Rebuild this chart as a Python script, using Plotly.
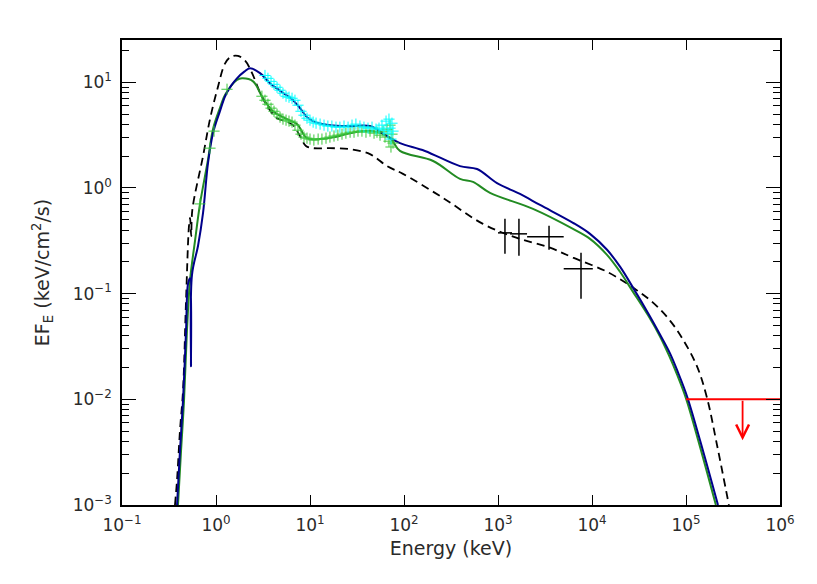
import numpy as np
import plotly.graph_objects as go

# ---------------- data ----------------
# model curves (E in keV, EF_E in keV/cm^2/s)
blue_E = [0.385, 0.414, 0.446, 0.48, 0.504, 0.53, 0.542, 0.555, 0.644, 0.728, 0.822, 0.929,
          1.10, 1.25, 1.45, 1.67, 2.00, 2.30, 2.94, 3.75, 4.24, 5.42, 6.44, 7.83, 9.29,
          11.3, 16.3, 26.7, 43.5, 65.9, 90.6, 167, 394, 598, 976, 1714, 2800, 6280, 9530,
          14450, 19860, 27300, 41400, 52900, 67600, 82200, 102500, 141000, 219000]
blue_F = [0.001, 0.0033, 0.0098, 0.0448, 0.124, 0.14, 0.0205, 0.15, 0.284, 0.581, 1.72, 3.30,
          5.30, 7.38, 9.30, 10.9, 12.6, 13.6, 12.2, 9.80, 9.00, 7.71, 6.92, 5.69, 4.68,
          4.2, 3.93, 3.85, 3.85, 3.1, 2.66, 2.24, 1.61, 1.51, 1.11, 0.877, 0.690, 0.468, 0.368,
          0.260, 0.180, 0.114, 0.0607, 0.0410, 0.0272, 0.0180, 0.0107, 0.0041, 0.001]

green_E = [0.394, 0.425, 0.457, 0.491, 0.529, 0.598, 0.676, 0.822, 0.929, 1.10, 1.25, 1.67,
           1.89, 2.48, 3.16, 4.04, 5.69, 7.27, 9.29, 12.8, 18.4, 26.7, 46.8, 71.0, 90.6,
           204, 394, 542, 822, 2357, 6280, 9530, 14450, 19860, 27300, 41400, 52900, 65900,
           80200, 100000, 137500, 208000]
green_F = [0.001, 0.0033, 0.0098, 0.0448, 0.133, 0.316, 0.706, 1.85, 3.60, 5.69, 7.60, 10.5,
           10.9, 10.2, 7.06, 5.32, 4.47, 4.02, 2.96, 2.90, 3.03, 3.30, 3.45, 2.96, 2.24,
           1.80, 1.22, 1.14, 0.898, 0.634, 0.410, 0.330, 0.233, 0.161, 0.104, 0.0581, 0.0393, 0.0260,
           0.0172, 0.0102, 0.00385, 0.001]

dash_E = [0.366, 0.385, 0.414, 0.446, 0.48, 0.516, 0.53, 0.545, 0.56, 0.728, 0.863,
          1.03, 1.25, 1.45, 1.71, 2.04, 2.42, 2.94, 3.57, 4.46, 5.42, 6.59, 7.83, 9.06, 10.8,
          16.3, 26.7, 43.5, 65.9, 97.5, 260, 692, 1592, 3574, 6280, 14450, 27300, 44560, 67600,
          92900, 131000, 167000, 214000, 286000]
dash_F = [0.001, 0.00172, 0.0051, 0.0122, 0.086, 0.438, 0.52, 0.35, 0.62, 2.0, 4.48,
          8.5, 15.1, 17.5, 17.8, 16.0, 12.2, 8.0, 5.8, 4.57, 4.29, 3.93, 3.10, 2.49, 2.38,
          2.38, 2.33, 2.09, 1.61, 1.36, 0.805, 0.457, 0.337, 0.272, 0.219, 0.161, 0.114, 0.0822, 0.0556,
          0.0368, 0.0205, 0.0104, 0.00368, 0.001]

# X-ray spectral data points (cyan and green)
cyan_E = [3.32, 3.57, 3.85, 4.14, 4.46, 4.80, 5.16, 5.56, 5.98, 6.44, 6.92, 7.45, 8.02, 8.63,
          9.29, 10.0, 10.8, 11.6, 12.8, 14.1, 15.5, 17.1, 18.9, 20.8, 23.0, 25.4, 28.0,
          30.8, 34.0, 37.5, 41.4, 45.7, 50.4, 54.2, 58.3, 61.2, 64.4, 67.6, 69.2, 71.0,
          72.7, 74.5, 76.4]
cyan_F = [11.6, 10.9, 10.2, 9.57, 8.97, 8.41, 7.88, 7.38, 7.22, 7.06, 6.76, 6.07, 5.32, 4.88,
          4.57, 4.38, 4.20, 4.10, 4.02, 3.93, 3.85, 3.85, 3.76, 3.76, 3.85, 3.76, 3.93,
          4.02, 3.85, 3.76, 3.68, 3.76, 3.60, 3.68, 3.93, 3.52, 4.29, 3.30, 4.48, 3.68,
          2.90, 4.10, 3.45]

green_data_E = [0.676, 0.863, 0.953, 1.31, 3.08, 3.32, 3.57, 3.85, 4.14, 4.46, 4.80, 5.16,
                5.56, 5.98, 6.44, 6.92, 7.45, 8.02, 8.63, 9.29, 10.0, 11.0, 12.2, 13.4, 14.8,
                16.3, 18.0, 19.8, 21.9, 24.1, 26.7, 29.4, 32.4, 35.7, 39.4, 43.5, 48.0, 51.6,
                55.6, 59.8, 62.8, 65.9, 69.2, 71.0, 72.7, 74.5, 76.4]
green_data_F = [0.706, 2.38, 3.45, 8.59, 7.38, 6.76, 6.20, 5.69, 5.32, 4.99, 4.68, 4.48,
                4.38, 4.29, 4.20, 3.93, 3.52, 3.23, 3.03, 2.96, 2.90, 2.84, 2.90, 2.90, 2.96,
                3.03, 3.10, 3.16, 3.23, 3.30, 3.37, 3.37, 3.45, 3.45, 3.37, 3.45, 3.30, 3.37,
                3.16, 3.45, 3.03, 3.60, 2.77, 3.93, 2.44, 3.23, 2.66]

# gamma-ray points with energy bins and flux error ranges
pts_E = [1186, 1670, 3490, 7640]
pts_E_lo = [1000, 1343, 2040, 5000]
pts_E_hi = [1410, 2037, 5000, 10200]
pts_F = [0.376, 0.368, 0.345, 0.172]
pts_F_lo = [0.238, 0.228, 0.260, 0.0897]
pts_F_hi = [0.510, 0.510, 0.440, 0.244]

# upper limit
ul_E_lo, ul_E_hi = 1e5, 1e6
ul_F = 0.01
ul_E_arrow = 4.0e5
ul_F_tip = 0.0041

# axis ticks
x_tickvals = [0.1, 1, 10, 100, 1e3, 1e4, 1e5, 1e6]
x_ticktext = ['10<sup>−1</sup>', '10<sup>0</sup>', '10<sup>1</sup>', '10<sup>2</sup>',
              '10<sup>3</sup>', '10<sup>4</sup>', '10<sup>5</sup>', '10<sup>6</sup>']
y_tickvals = [1e-3, 1e-2, 1e-1, 1, 10]
y_ticktext = ['10<sup>−3</sup>', '10<sup>−2</sup>', '10<sup>−1</sup>', '10<sup>0</sup>', '10<sup>1</sup>']

# ---------------- figure ----------------
fig = go.Figure()

fig.add_trace(go.Scatter(x=dash_E, y=dash_F, mode='lines',
                         line=dict(color='black', width=1.8, dash='8px,5px'),
                         line_shape='spline', hoverinfo='skip'))
fig.add_trace(go.Scatter(x=green_E, y=green_F, mode='lines',
                         line=dict(color='#228B22', width=2), line_shape='spline'))
fig.add_trace(go.Scatter(x=blue_E, y=blue_F, mode='lines',
                         line=dict(color='#00008B', width=2), line_shape='spline'))

fig.add_trace(go.Scatter(x=green_data_E, y=green_data_F, mode='markers',
                         marker=dict(symbol='cross-thin', size=8, color='#3CC83C',
                                     line=dict(width=1, color='#3CC83C'))))
fig.add_trace(go.Scatter(x=cyan_E, y=cyan_F, mode='markers',
                         marker=dict(symbol='cross-thin', size=8, color='#00FFFF',
                                     line=dict(width=1, color='#00FFFF'))))

fig.add_trace(go.Scatter(
    x=pts_E, y=pts_F, mode='markers',
    marker=dict(size=1, color='black', opacity=0),
    error_x=dict(type='data', symmetric=False,
                 array=[h - e for h, e in zip(pts_E_hi, pts_E)],
                 arrayminus=[e - l for e, l in zip(pts_E, pts_E_lo)],
                 color='black', thickness=1.5, width=0),
    error_y=dict(type='data', symmetric=False,
                 array=[h - f for h, f in zip(pts_F_hi, pts_F)],
                 arrayminus=[f - l for f, l in zip(pts_F, pts_F_lo)],
                 color='black', thickness=1.5, width=0)))

fig.add_trace(go.Scatter(x=[ul_E_lo, ul_E_hi], y=[ul_F, ul_F], mode='lines',
                         line=dict(color='red', width=2)))
fig.add_annotation(x=np.log10(ul_E_arrow), y=np.log10(ul_F_tip),
                   ax=np.log10(ul_E_arrow), ay=np.log10(ul_F),
                   xref='x', yref='y', axref='x', ayref='y',
                   showarrow=True, arrowhead=5, arrowsize=1.4, arrowwidth=1.8,
                   arrowcolor='red', text='')

FAM = 'DejaVu Sans, sans-serif'
TXT = '#2a2a2a'

fig.update_xaxes(type='log', range=[-1, 6], tickvals=x_tickvals, ticktext=x_ticktext,
                 ticks='inside', ticklen=10, tickwidth=1, tickcolor='black',
                 showline=True, linecolor='black', linewidth=1.5, mirror='ticks',
                 showgrid=False, zeroline=False, ticklabelstandoff=4,
                 tickfont=dict(family=FAM, size=17, color=TXT),
                 title=dict(text='Energy (keV)', standoff=8,
                            font=dict(family=FAM, size=19, color=TXT)))
fig.update_yaxes(type='log', range=[-3, 1.4], tickvals=y_tickvals, ticktext=y_ticktext,
                 ticks='inside', ticklen=14, tickwidth=1, tickcolor='black',
                 minor=dict(ticks='inside', ticklen=7, tickwidth=1, tickcolor='black',
                            tickvals=[m * 10.0 ** p for p in range(-3, 2) for m in range(2, 10)]),
                 showline=True, linecolor='black', linewidth=1.5, mirror='ticks',
                 showgrid=False, zeroline=False, ticklabelstandoff=5,
                 tickfont=dict(family=FAM, size=17, color=TXT),
                 title=dict(text='EF<sub>E</sub> (keV/cm<sup>2</sup>/s)', standoff=18,
                            font=dict(family=FAM, size=19, color=TXT)))

# the page body has an 8px default margin; the figure is sized so the frame lands where the reference has it
fig.update_layout(width=809, height=576, showlegend=False,
                  plot_bgcolor='white', paper_bgcolor='white',
                  margin=dict(l=114, r=37, t=32, b=79),
                  font=dict(family=FAM, size=17, color=TXT))

fig.write_html('out.html')
